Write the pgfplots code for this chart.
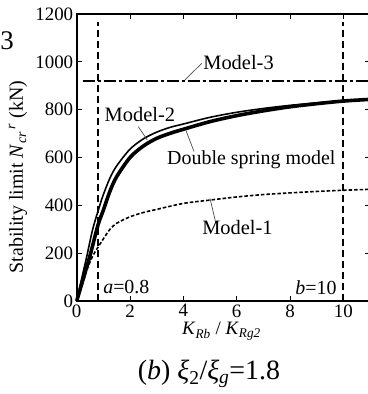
\documentclass[border=0pt]{standalone}
\usepackage{fontspec}
\setmainfont{Liberation Serif}
\usepackage{pgfplots}
\pgfplotsset{compat=1.18}

\pgfplotstableread{
k v
0 0
0.1 50
0.2 100
0.375 185
0.6 300
0.85 394
1.0 445
1.25 515
1.5 565
2.0 635
2.5 678
3.0 706
3.5 726
4.0 740
5.0 768
6.0 789
7.0 805
8.0 818
9.0 828
10.0 836
11.0 843
}\modeltwo

\pgfplotstableread{
k v
0 0
0.1 38
0.25 95
0.5 190
0.8 318
1.0 380
1.25 460
1.5 520
2.0 600
2.5 648
3.0 680
3.5 701
4.0 718
5.0 750
6.0 775
7.0 795
8.0 812
9.0 825
10.0 836
11.0 843
}\doublespring

\pgfplotstableread{
k v
0 0
0.2 65
0.4 135
0.6 188
0.8 225
1.0 260
1.25 300
1.5 325
2.0 352
2.5 370
3.0 383
4.0 408
5.0 422
6.0 435
7.0 445
8.0 452
9.0 458
10.0 463
11.0 467
}\modelone

\begin{document}
\begin{tikzpicture}
\path[use as bounding box] (-76.7bp,-93bp) rectangle (291.3bp,301bp);
\clip (-76.7bp,-93bp) rectangle (291.3bp,301bp);
\begin{axis}[
  at={(0,0)}, anchor=south west,
  scale only axis, width=293.3bp, height=287bp,
  xmin=0, xmax=11, ymin=0, ymax=1200,
  xtick={0,2,4,6,8,10}, ytick={0,200,400,600,800,1000,1200},
  tick align=inside, major tick length=5bp,
  axis line style={line width=1.8bp},
  every tick/.style={line width=1bp, black},
  tick label style={font=\fontsize{19}{21}\selectfont},
  /pgf/number format/assume math mode=true,
  /pgf/number format/1000 sep={},
  xticklabel={\pgfmathprintnumber{\tick}},
  yticklabel={\pgfmathprintnumber{\tick}},
  clip=false,
]
\addplot[black, line width=1.6bp, smooth] table[x=k,y=v] {\modeltwo};
\addplot[black, line width=3.6bp, smooth] table[x=k,y=v] {\doublespring};
\addplot[black, line width=1.6bp, smooth, dash pattern=on 3.5bp off 2bp] table[x=k,y=v] {\modelone};
\addplot[black, line width=1.3bp, dash pattern=on 12bp off 3bp on 3bp off 3bp] coordinates {(0.22,920) (11,920)};
\addplot[black, line width=1.8bp, dash pattern=on 7bp off 4bp] coordinates {(0.8,0) (0.8,1165)};
\addplot[black, line width=1.8bp, dash pattern=on 7bp off 4bp] coordinates {(10,0) (10,1165)};

\draw[black!70, line width=0.7bp] (axis cs:4.06,924) -- (axis cs:4.69,994);
\draw[black!70, line width=0.7bp] (axis cs:2.31,729) -- (axis cs:2.65,673);
\draw[black!70, line width=0.7bp] (axis cs:4.1,712) -- (axis cs:4.4,625);
\draw[black!70, line width=0.7bp] (axis cs:5.0,429) -- (axis cs:5.22,325);

\node[anchor=base, font=\fontsize{20.5}{22}\selectfont, inner sep=0pt] at (axis cs:6.07,966) {Model-3};
\node[anchor=base, font=\fontsize{20.5}{22}\selectfont, inner sep=0pt] at (axis cs:2.37,750) {Model-2};
\node[anchor=base, font=\fontsize{20}{22}\selectfont, inner sep=0pt] at (axis cs:6.55,569) {Double spring model};
\node[anchor=base, font=\fontsize{20.5}{22}\selectfont, inner sep=0pt] at (axis cs:6.03,276) {Model-1};
\node[anchor=base west, font=\fontsize{20}{22}\selectfont, inner sep=0pt] at (axis cs:0.99,32) {\textit{a}=0.8};
\node[anchor=base east, font=\fontsize{20}{22}\selectfont, inner sep=0pt] at (axis cs:9.75,29) {\textit{b}=10};

\node[anchor=base, font=\fontsize{19}{21}\selectfont, inner sep=0pt] at (axis cs:5.43,-142)
  {\textit{K}\textsubscript{\textit{Rb}} / \textit{K}\textsubscript{\textit{Rg2}}};
\node[rotate=90, anchor=center, font=\fontsize{20}{22}\selectfont, inner sep=0pt] at (axis cs:-2.2,518)
  {Stability limit \textit{N}\textsubscript{\textit{cr}}\textsuperscript{\,\textit{r}} (kN)};
\node[anchor=base, font=\fontsize{28}{30}\selectfont, inner sep=0pt] at (axis cs:4.96,-330)
  {(\textit{b}) \textit{ξ}\textsubscript{2}/\textit{ξ}\textsubscript{\textit{g}}=1.8};
\node[anchor=east, font=\fontsize{27}{29}\selectfont, inner sep=0pt] at (axis cs:-2.35,1087) {-3};
\end{axis}
\end{tikzpicture}
\end{document}
